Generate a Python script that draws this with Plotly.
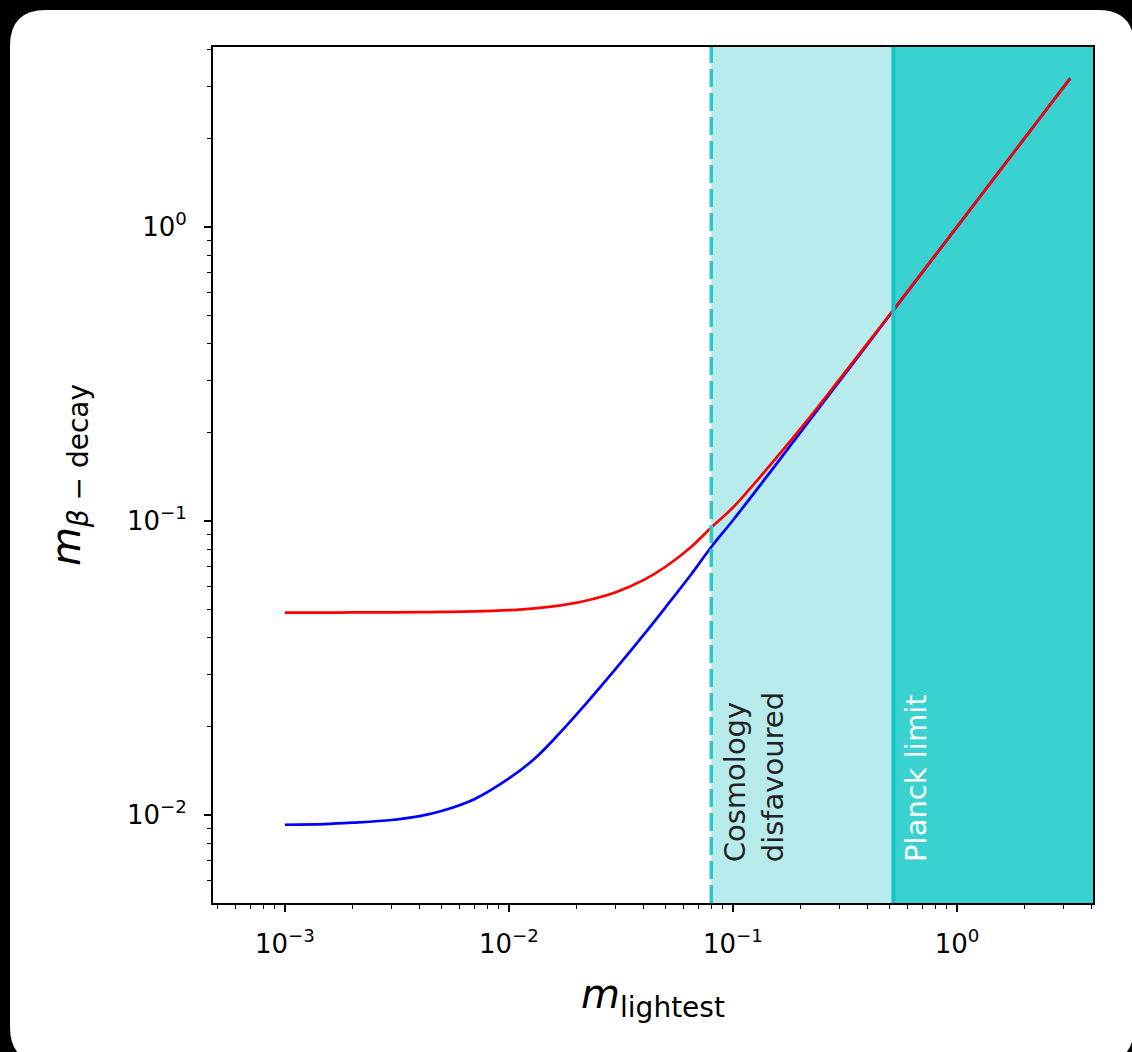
import math
import plotly.graph_objects as go

# ---- data ----
m_lightest = [0.001, 0.0015, 0.002, 0.003, 0.004, 0.005, 0.007, 0.01, 0.013, 0.017,
              0.022, 0.03, 0.04, 0.05, 0.065, 0.08, 0.1, 0.13, 0.17, 0.22, 0.3,
              0.4, 0.52, 0.7, 1.0, 1.5, 2.2, 3.2]
m_beta_normal = [0.00925, 0.0093, 0.0094, 0.0096, 0.0099, 0.0103, 0.0113, 0.0133,
                 0.0155, 0.0191, 0.0238, 0.0314, 0.0410, 0.0508, 0.0657, 0.0815,
                 0.1005, 0.130, 0.170, 0.220, 0.300, 0.400, 0.520, 0.700, 1.0,
                 1.5, 2.2, 3.2]
m_beta_inverted = [0.0487, 0.0487, 0.0488, 0.0488, 0.0489, 0.0490, 0.0492, 0.0497,
                   0.0504, 0.0516, 0.0535, 0.0572, 0.0630, 0.0698, 0.0815, 0.0950,
                   0.111, 0.139, 0.177, 0.225, 0.304, 0.403, 0.522, 0.702, 1.001,
                   1.5, 2.2, 3.2]

cosmology_limit = 0.08
planck_limit = 0.52

x_tickvals = [1e-3, 1e-2, 1e-1, 1]
x_ticktext = ["10<sup>−3</sup>", "10<sup>−2</sup>", "10<sup>−1</sup>", "10<sup>0</sup>"]
y_tickvals = [1e-2, 1e-1, 1]
y_ticktext = ["10<sup>−2</sup>", "10<sup>−1</sup>", "10<sup>0</sup>"]

# ---- layout geometry ----
W, H = 1132, 1052
L, R, T, B = 213, 1093, 47, 903
PW, PH = R - L, B - T

def px(x):
    return (x - L) / PW

def py(y):
    return (B - y) / PH

FONT = "DejaVu Sans"

fig = go.Figure()

fig.add_trace(go.Scatter(x=m_lightest, y=m_beta_normal, mode="lines",
                         line=dict(color="#0000FF", width=2.7, shape="spline", smoothing=1.0),
                         showlegend=False))
fig.add_trace(go.Scatter(x=m_lightest, y=m_beta_inverted, mode="lines",
                         line=dict(color="#FF0000", width=2.7, shape="spline", smoothing=1.0),
                         showlegend=False))

# rounded white card on black background
x0, x1, y0, y1, r = 10, 1134, 10, 1063, 36
rx, ry = r / PW, r / PH
card = (f"M {px(x0)+rx} {py(y0)} L {px(x1)-rx} {py(y0)} "
        f"Q {px(x1)} {py(y0)} {px(x1)} {py(y0)-ry} "
        f"L {px(x1)} {py(y1)+ry} Q {px(x1)} {py(y1)} {px(x1)-rx} {py(y1)} "
        f"L {px(x0)+rx} {py(y1)} Q {px(x0)} {py(y1)} {px(x0)} {py(y1)+ry} "
        f"L {px(x0)} {py(y0)-ry} Q {px(x0)} {py(y0)} {px(x0)+rx} {py(y0)} Z")
fig.add_shape(type="path", path=card, xref="paper", yref="paper",
              fillcolor="white", line=dict(width=0), layer="below")

x_right = 10 ** 0.607
fig.add_shape(type="rect", xref="x", yref="paper", x0=cosmology_limit, x1=planck_limit,
              y0=0, y1=1, fillcolor="#B8ECEC", line=dict(width=0), layer="below")
fig.add_shape(type="rect", xref="x", yref="paper", x0=planck_limit, x1=x_right,
              y0=0, y1=1, fillcolor="#3AD2D0", line=dict(width=0), layer="below")
fig.add_shape(type="line", xref="x", yref="paper", x0=cosmology_limit, x1=cosmology_limit,
              y0=0, y1=1, line=dict(color="#2CC8C8", width=3.5, dash="18px,6px"),
              layer="above")
fig.add_shape(type="line", xref="x", yref="paper", x0=planck_limit, x1=planck_limit,
              y0=0, y1=1, line=dict(color="#14C4C4", width=4), layer="above")

fig.add_annotation(x=math.log10(cosmology_limit), xref="x", y=py(864), yref="paper",
                   text="Cosmology<br>disfavoured", textangle=-90, showarrow=False,
                   xanchor="left", yanchor="bottom", align="left", xshift=5,
                   font=dict(family=FONT, size=29, color="#222222"))
fig.add_annotation(x=math.log10(planck_limit), xref="x", y=py(864), yref="paper",
                   text="Planck limit", textangle=-90, showarrow=False,
                   xanchor="left", yanchor="bottom", align="left", xshift=3,
                   font=dict(family=FONT, size=29, color="white"))

axis_common = dict(type="log", showgrid=False, zeroline=False, showline=True,
                   linecolor="black", linewidth=2, mirror=True, ticks="outside",
                   ticklen=7, tickwidth=1.6, tickcolor="black",
                   tickfont=dict(family=FONT, size=26, color="black"),
                   minor=dict(ticks="outside", ticklen=4, tickwidth=1.2,
                              tickcolor="black", dtick="D1", showgrid=False))

fig.update_xaxes(**axis_common, range=[-3.321, 0.607], tickmode="array",
                 tickvals=x_tickvals, ticktext=x_ticktext, ticklabelstandoff=10,
                 title=dict(text="<i>m</i><sub>lightest</sub>",
                            font=dict(family=FONT, size=40, color="black"),
                            standoff=22))
fig.update_yaxes(**axis_common, range=[-2.3, 0.612], tickmode="array",
                 tickvals=y_tickvals, ticktext=y_ticktext, ticklabelstandoff=12,
                 title=dict(text="<i>m</i><sub><i>β</i> − decay</sub>",
                            font=dict(family=FONT, size=40, color="black"),
                            standoff=34))

fig.update_layout(width=W, height=H, paper_bgcolor="black", plot_bgcolor="white",
                  margin=dict(l=L, r=W - R, t=T, b=H - B, autoexpand=False),
                  showlegend=False)

fig.write_html("out.html")
